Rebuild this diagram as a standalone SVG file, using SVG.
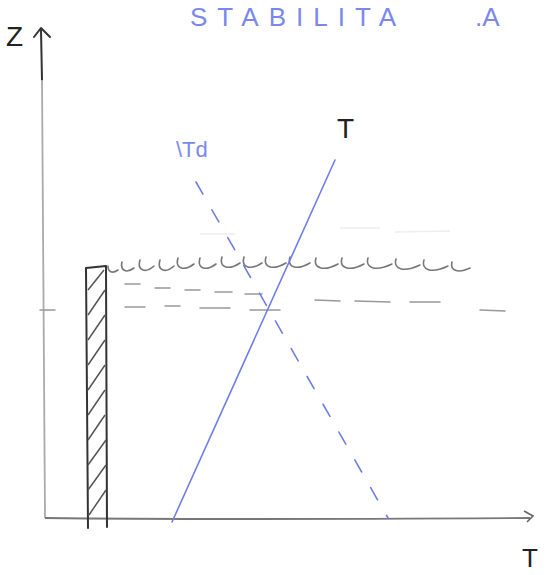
<svg xmlns="http://www.w3.org/2000/svg" width="547" height="575" viewBox="0 0 547 575">
<style>
.ink{fill:none;stroke:#333;stroke-width:2;stroke-linecap:round;stroke-linejoin:round}
.grey{fill:none;stroke:#999;stroke-width:1.5;stroke-linecap:round}
.blue{fill:none;stroke:#6f7fe8;stroke-width:1.6;stroke-linecap:round}
.hand{font-family:"Liberation Sans",sans-serif;}
</style>
<rect width="547" height="575" fill="#fff"/>
<g id="texts" class="hand">
<text x="190" y="26" font-size="26" fill="#7a88ee" letter-spacing="10">STABILITA</text>
<text x="475" y="26" font-size="26" fill="#7a88ee">.A</text>
<text x="6" y="46" font-size="28" fill="#222">Z</text>
<text x="337" y="138" font-size="28" fill="#222">T</text>
<text x="176" y="157" font-size="22" fill="#7a88ee">\Td</text>
<text x="522" y="567" font-size="26" fill="#222">T</text>
</g>
<g id="axes">
<path class="ink" d="M41 30 L42 80"/>
<path d="M42 80 L45 518" fill="none" stroke="#aaa" stroke-width="1.8"/>
<path class="ink" d="M34 37 L41 28 L50 37"/>
<path d="M45 518 Q200 520 530 518" fill="none" stroke="#777" stroke-width="1.8"/>
<path d="M524 511 L533 516 L527 522" fill="none" stroke="#666" stroke-width="1.6"/>
</g>
<g id="wall">
<path class="ink" d="M86 268 L88 528 M106 266 L107 527 M86 268 L106 266"/>
<path d="M88 290 L104 270 M88 315 L105 290 M88 340 L105 315 M88 365 L105 340 M88 390 L105 365 M88 415 L105 390 M88 440 L105 415 M88 465 L106 440 M88 490 L106 465 M89 515 L106 490" fill="none" stroke="#555" stroke-width="1.5"/>
</g>
<g id="waves">
<path d="M108 266 c0 6 4 8 10 4 M122 262 c-2 8 4 12 12 6 M140 260 c-3 10 5 14 14 6 M160 260 c-3 10 5 14 14 6 M178 258 c-3 10 5 14 16 6 M200 258 c-3 10 5 14 16 6 M222 257 c-3 10 6 14 18 6 M244 257 c-3 10 6 14 18 6 M266 257 c-3 10 6 14 20 6 M290 257 c-3 10 6 14 20 6 M316 258 c-3 10 7 14 22 6 M342 258 c-3 10 7 14 22 6 M368 258 c-3 10 7 14 24 6 M396 259 c-3 10 7 14 24 6 M424 260 c-3 10 7 14 24 6 M452 262 c-2 8 5 12 18 6" fill="none" stroke="#777" stroke-width="1.6" stroke-linecap="round"/>
<path class="grey" d="M125 284 L140 284 M155 288 L170 288 M185 290 L200 290 M215 292 L232 292 M245 294 L262 294" stroke="#888"/>
<path class="grey" d="M40 310 L55 310 M125 307 L145 307 M165 306 L180 306 M200 308 L230 308 M250 310 L280 310 M315 300 L340 301 M355 301 L390 302 M410 302 L440 302 M480 310 L505 311" stroke="#bbb"/>
<path d="M200 234 L235 234 M395 232 L450 231 M340 228 L380 228" fill="none" stroke="#eee" stroke-width="1.5"/>
</g>
<g id="connectors">
<path class="blue" d="M172 522 L335 160"/>
<path class="blue" d="M196 182 L388 518" stroke-dasharray="14 18"/>
</g>
</svg>
